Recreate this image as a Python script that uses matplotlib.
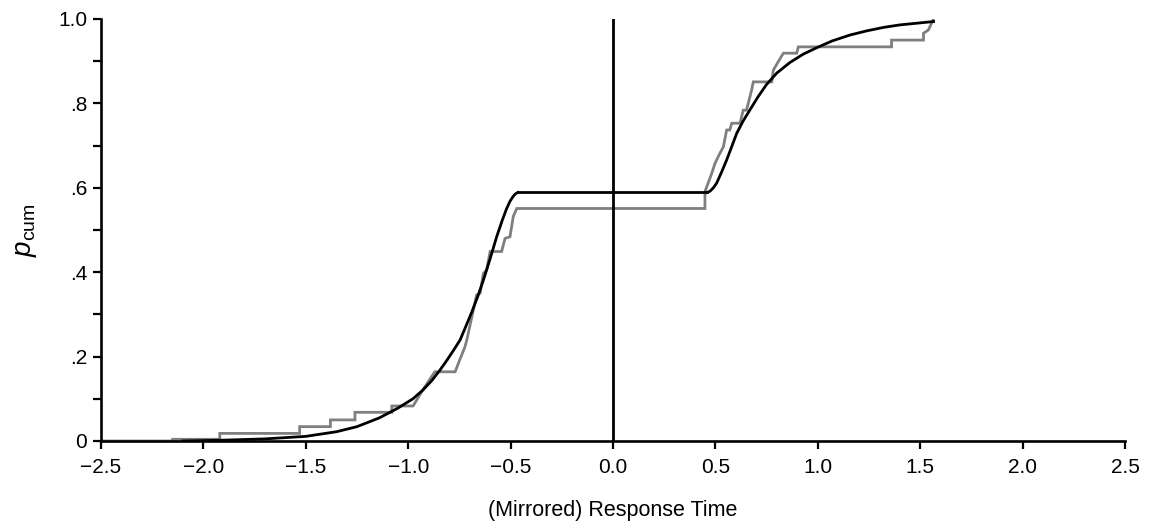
import matplotlib
matplotlib.use("Agg")
import matplotlib.pyplot as plt
from matplotlib.ticker import MultipleLocator

plt.rcParams['font.family'] = ['Liberation Sans', 'DejaVu Sans']
plt.rcParams['mathtext.fontset'] = 'custom'
plt.rcParams['mathtext.rm'] = 'Liberation Sans'
plt.rcParams['mathtext.it'] = 'Liberation Sans:italic'

# Model (smooth) cumulative curve: error branch (mirrored, negative) and correct branch
model_err_x = [-2.1, -1.9, -1.7, -1.5, -1.35, -1.25, -1.14, -1.05, -0.977, -0.93, -0.885, -0.845,
               -0.81, -0.78, -0.747, -0.72, -0.69, -0.66, -0.633, -0.60, -0.568, -0.54, -0.52,
               -0.503, -0.49, -0.478, -0.465]
model_err_y = [0.0, 0.002, 0.005, 0.011, 0.022, 0.034, 0.055, 0.078, 0.100, 0.120, 0.143, 0.168,
               0.192, 0.214, 0.239, 0.270, 0.305, 0.343, 0.381, 0.432, 0.484, 0.524, 0.550,
               0.568, 0.578, 0.585, 0.589]
model_cor_x = [0.46, 0.474, 0.49, 0.506, 0.53, 0.555, 0.58, 0.604, 0.635, 0.669, 0.71, 0.75,
               0.80, 0.864, 0.93, 0.995, 1.07, 1.157, 1.24, 1.32, 1.40, 1.483, 1.565]
model_cor_y = [0.589, 0.592, 0.600, 0.611, 0.637, 0.666, 0.698, 0.729, 0.758, 0.785, 0.817, 0.845,
               0.872, 0.897, 0.917, 0.932, 0.948, 0.962, 0.972, 0.980, 0.986, 0.990, 0.994]

# Empirical cumulative distribution (vertices of the grey staircase)
emp_x = [-2.5, -2.15, -2.15, -1.92, -1.92, -1.53, -1.53, -1.38, -1.38, -1.26, -1.26, -1.08, -1.08,
         -1.04, -1.0, -0.976, -0.93, -0.87, -0.771, -0.755, -0.723, -0.714, -0.682, -0.666, -0.649,
         -0.633, -0.617, -0.60, -0.544, -0.527, -0.503, -0.487, -0.47,
         0.449, 0.449, 0.482, 0.498, 0.522, 0.539, 0.555, 0.570, 0.580, 0.620, 0.636, 0.652,
         0.677, 0.685, 0.775, 0.783, 0.807, 0.832, 0.897, 0.905, 1.36, 1.36, 1.516, 1.516,
         1.54, 1.565]
emp_y = [0.0, 0.0, 0.004, 0.004, 0.018, 0.018, 0.034, 0.034, 0.050, 0.050, 0.068, 0.068, 0.083,
         0.083, 0.083, 0.083, 0.120, 0.164, 0.164, 0.184, 0.223, 0.239, 0.310, 0.346, 0.350,
         0.397, 0.405, 0.449, 0.449, 0.480, 0.484, 0.532, 0.551,
         0.551, 0.591, 0.634, 0.658, 0.682, 0.697, 0.737, 0.737, 0.753, 0.753, 0.784, 0.784,
         0.832, 0.851, 0.851, 0.879, 0.899, 0.919, 0.919, 0.934, 0.934, 0.950, 0.950, 0.966,
         0.974, 1.0]

x_ticks = [-2.5, -2.0, -1.5, -1.0, -0.5, 0.0, 0.5, 1.0, 1.5, 2.0, 2.5]
x_tick_labels = ['\u22122.5', '\u22122.0', '\u22121.5', '\u22121.0', '\u22120.5', '0.0',
                 '0.5', '1.0', '1.5', '2.0', '2.5']
y_ticks = [0.0, 0.2, 0.4, 0.6, 0.8, 1.0]
y_tick_labels = ['0', '.2', '.4', '.6', '.8', '1.0']

fig = plt.figure(figsize=(11.49, 5.28), dpi=100)
ax = fig.add_axes([101/1149, 1 - 441/528, (1125 - 101)/1149, (441 - 19)/528])

ax.plot(emp_x, emp_y, color='#7f7f7f', lw=2.0, solid_joinstyle='miter', zorder=2)
ax.plot(model_err_x, model_err_y, color='black', lw=2.0, zorder=3)
ax.plot([model_err_x[-1], model_cor_x[0]], [model_err_y[-1], model_cor_y[0]], color='black', lw=2.0, zorder=3)
ax.plot(model_cor_x, model_cor_y, color='black', lw=2.0, zorder=3)
ax.plot([0, 0], [0, 1.0], color='black', lw=2.0, zorder=4)

ax.set_xlim(-2.5, 2.5)
ax.set_ylim(0, 1.0)
ax.set_xticks(x_ticks)
ax.set_xticklabels(x_tick_labels)
ax.set_yticks(y_ticks)
ax.set_yticklabels(y_tick_labels)
ax.yaxis.set_minor_locator(MultipleLocator(0.1))

for s in ['top', 'right']:
    ax.spines[s].set_visible(False)
for s in ['left', 'bottom']:
    ax.spines[s].set_linewidth(1.9)
    ax.spines[s].set_color('black')

ax.tick_params(axis='both', which='both', direction='out', length=6, width=1.6,
               labelsize=15, colors='black')
ax.tick_params(axis='x', pad=6)
ax.tick_params(axis='y', pad=4)

ax.set_xlabel('(Mirrored) Response Time', fontsize=15.5, labelpad=17)
ax.set_ylabel(r'$p_{\mathrm{cum}}$', fontsize=20, labelpad=14)

fig.savefig('out.png', dpi=100)
